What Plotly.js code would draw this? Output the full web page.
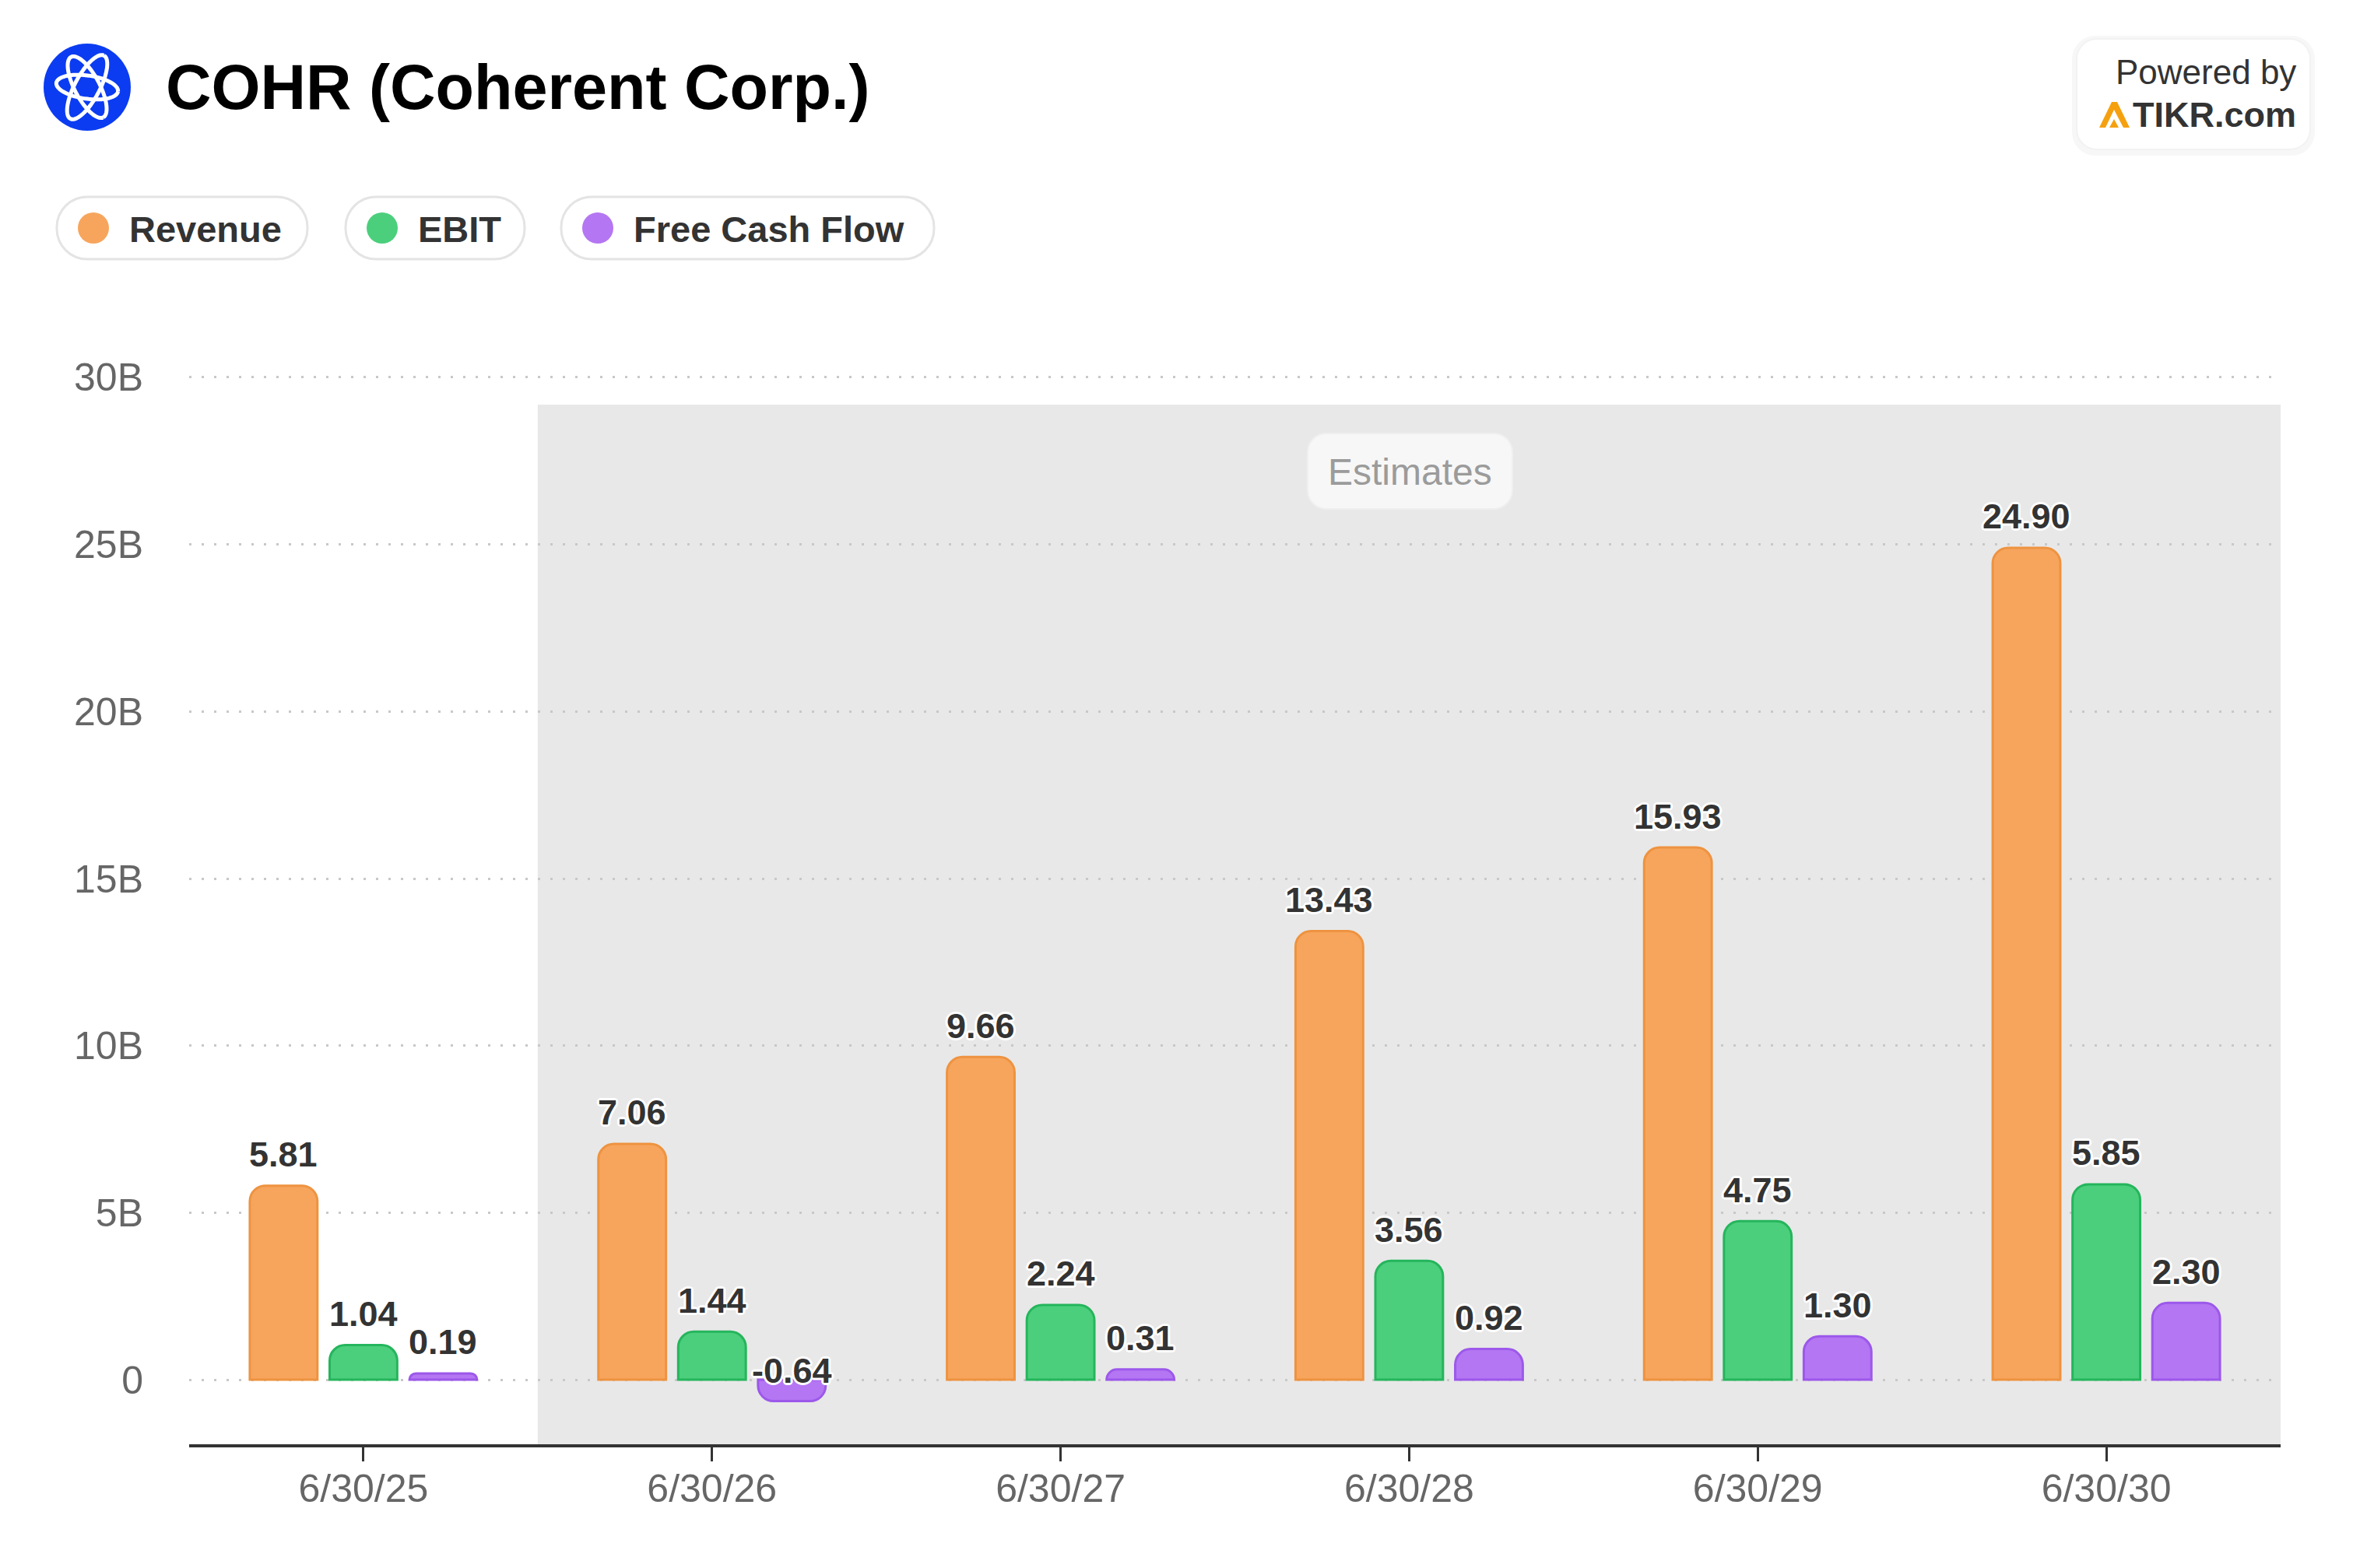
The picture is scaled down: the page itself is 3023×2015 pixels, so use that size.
<!DOCTYPE html>
<html>
<head>
<meta charset="utf-8">
<script src="https://cdn.plot.ly/plotly-3.0.1.min.js"></script>
<style>
  html, body { margin: 0; padding: 0; background: #ffffff; }
  #chart { width: 3023px; height: 2015px; }
</style>
</head>
<body>
<div id="chart"></div>
<script>
// ---- Data (values in billions USD) ----
const periods = ["6/30/25", "6/30/26", "6/30/27", "6/30/28", "6/30/29", "6/30/30"];
const seriesNames = ["Revenue", "EBIT", "Free Cash Flow"];
const revenue = [5.81, 7.06, 9.66, 13.43, 15.93, 24.90];
const ebit = [1.04, 1.44, 2.24, 3.56, 4.75, 5.85];
const freeCashFlow = [0.19, -0.64, 0.31, 0.92, 1.30, 2.30];
const yTickVals = [0, 5, 10, 15, 20, 25, 30];
const yTickText = ["0", "5B", "10B", "15B", "20B", "25B", "30B"];
const estimatesLabel = "Estimates";
const titleText = "COHR (Coherent Corp.)";

// ---- Style ----
const FONT = "Liberation Sans, Arial, Helvetica, sans-serif";
const fills = ["#F7A55D", "#4BCF7C", "#B476F2"];
const edges = ["#EE9340", "#25B55C", "#9C58EA"];
const BARGAP = 0.313, BARGROUPGAP = 0.153;

// plot area in pixels
const W0 = 3023, H0 = 2015;
const Y_MIN = -1.93, Y_MAX = 30.3;
const L = 243, R = 2930, T = 472, B = 1856;
const PW = R - L, PH = B - T;
const px = x => (x - L) / PW;
const py = y => (B - y) / PH;

function rrect(x0, y0, x1, y1, r) {
  const k = 0.5523 * r;
  const P = (x, y) => px(x) + "," + py(y);
  return "M" + P(x0 + r, y0) +
    " L" + P(x1 - r, y0) +
    " C" + P(x1 - r + k, y0) + " " + P(x1, y0 + r - k) + " " + P(x1, y0 + r) +
    " L" + P(x1, y1 - r) +
    " C" + P(x1, y1 - r + k) + " " + P(x1 - r + k, y1) + " " + P(x1 - r, y1) +
    " L" + P(x0 + r, y1) +
    " C" + P(x0 + r - k, y1) + " " + P(x0, y1 - r + k) + " " + P(x0, y1 - r) +
    " L" + P(x0, y0 + r) +
    " C" + P(x0, y0 + r - k) + " " + P(x0 + r - k, y0) + " " + P(x0 + r, y0) + " Z";
}

function ellipsePath(cx, cy, rx, ry, rotDeg) {
  const a = rotDeg * Math.PI / 180;
  let s = "";
  for (let i = 0; i <= 60; i++) {
    const t = i / 60 * 2 * Math.PI;
    const ex = rx * Math.cos(t), ey = ry * Math.sin(t);
    const x = cx + ex * Math.cos(a) - ey * Math.sin(a);
    const y = cy + ex * Math.sin(a) + ey * Math.cos(a);
    s += (i === 0 ? "M" : " L") + px(x) + "," + py(y);
  }
  return s;
}

const allSeries = [revenue, ebit, freeCashFlow];
const traces = allSeries.map((vals, k) => ({
  type: "bar",
  name: seriesNames[k],
  x: periods,
  y: vals,
  marker: { color: fills[k], line: { color: edges[k], width: 3 }, cornerradius: 20 },
  hoverinfo: "none",
  showlegend: false
}));

const shapes = [];
const annotations = [];

// estimates shaded band
shapes.push({ type: "rect", xref: "x", yref: "paper", x0: 0.5, x1: 5.5, y0: 0, y1: py(520),
  fillcolor: "#e8e8e8", line: { width: 0 }, layer: "below" });

// estimates pill
shapes.push({ type: "path", xref: "paper", yref: "paper", path: rrect(1680, 557, 1943, 654, 24),
  fillcolor: "#f7f7f7", line: { color: "#efefef", width: 2 }, layer: "above" });
annotations.push({ xref: "paper", yref: "paper", x: px(1811), y: py(606), xanchor: "center", yanchor: "middle",
  text: estimatesLabel, showarrow: false, font: { family: FONT, size: 48, color: "#9b9b9b" } });

// data labels
const slot = (1 - BARGAP) / 3;
const halo = "3px 0 0 #fff, -3px 0 0 #fff, 0 3px 0 #fff, 0 -3px 0 #fff, 2px 2px 0 #fff, -2px -2px 0 #fff, 2px -2px 0 #fff, -2px 2px 0 #fff";
allSeries.forEach((vals, k) => {
  vals.forEach((v, i) => {
    annotations.push({
      xref: "x", yref: "y", x: i + (k - 1) * slot, y: Math.max(v, 0),
      xanchor: "center", yanchor: "middle", yshift: v < 0 ? 12 : 40,
      text: v.toFixed(2), showarrow: false,
      font: { family: FONT, size: 45, color: "#333333", weight: "bold", shadow: halo }
    });
  });
});

// title + logo
shapes.push({ type: "circle", xref: "paper", yref: "paper", x0: px(56), x1: px(168), y0: py(168), y1: py(56),
  fillcolor: "#0b3cf1", line: { width: 0 }, layer: "above" });
[[-62, 46, 16], [62, 44, 16], [8, 40, 15]].forEach(e => {
  shapes.push({ type: "path", xref: "paper", yref: "paper", path: ellipsePath(112, 112, e[1], e[2], e[0]),
    line: { color: "#ffffff", width: 5 }, fillcolor: "rgba(0,0,0,0)", layer: "above" });
});
annotations.push({ xref: "paper", yref: "paper", x: px(211), y: py(112), xanchor: "left", yanchor: "middle",
  text: titleText, showarrow: false, font: { family: FONT, size: 81, color: "#000000", weight: "bold" } });

// legend pills
const pills = [[73, 395], [444, 674], [721, 1200]];
pills.forEach((p, k) => {
  shapes.push({ type: "path", xref: "paper", yref: "paper", path: rrect(p[0], 253, p[1], 333, 39),
    fillcolor: "#ffffff", line: { color: "#e4e4e4", width: 3 }, layer: "above" });
  shapes.push({ type: "circle", xref: "paper", yref: "paper", x0: px(p[0] + 27), x1: px(p[0] + 67),
    y0: py(313), y1: py(273), fillcolor: fills[k], line: { width: 0 }, layer: "above" });
  annotations.push({ xref: "paper", yref: "paper", x: px(p[0] + 91), y: py(294), xanchor: "left", yanchor: "middle",
    text: seriesNames[k], showarrow: false, font: { family: FONT, size: 47, color: "#333333", weight: "bold" } });
});

// powered by box
shapes.push({ type: "path", xref: "paper", yref: "paper", path: rrect(2662, 46, 2974, 200, 30),
  fillcolor: "rgba(0,0,0,0.03)", line: { width: 0 }, layer: "above" });
shapes.push({ type: "path", xref: "paper", yref: "paper", path: rrect(2668, 50, 2968, 192, 26),
  fillcolor: "#ffffff", line: { color: "#f2f2f2", width: 2 }, layer: "above" });
const tk = (pts) => pts.map((q, i) => (i === 0 ? "M" : " L") + px(q[0]) + "," + py(q[1])).join("") + " Z";
shapes.push({ type: "path", xref: "paper", yref: "paper",
  path: tk([[2697, 164], [2713, 131], [2720, 131], [2736, 164], [2728, 164], [2716, 141], [2705, 164]]),
  fillcolor: "#F5A10F", line: { width: 0 }, layer: "above" });
shapes.push({ type: "path", xref: "paper", yref: "paper",
  path: tk([[2710, 164], [2716, 153], [2722, 164]]),
  fillcolor: "#F5A10F", line: { width: 0 }, layer: "above" });
annotations.push({ xref: "paper", yref: "paper", x: px(2952), y: py(93), xanchor: "right", yanchor: "middle",
  text: "Powered by", showarrow: false, font: { family: FONT, size: 44, color: "#333333" } });
annotations.push({ xref: "paper", yref: "paper", x: px(2952), y: py(148), xanchor: "right", yanchor: "middle",
  text: "TIKR.com", showarrow: false, font: { family: FONT, size: 45, color: "#333333", weight: "bold" } });

const layout = {
  width: W0, height: H0,
  margin: { l: L, r: W0 - R, t: T, b: H0 - B, pad: 0 },
  paper_bgcolor: "#ffffff", plot_bgcolor: "rgba(0,0,0,0)",
  barmode: "group", bargap: BARGAP, bargroupgap: BARGROUPGAP,
  font: { family: FONT },
  showlegend: false,
  xaxis: {
    type: "category", range: [-0.5, 5.5], fixedrange: true,
    showgrid: false, zeroline: false,
    showline: true, linecolor: "#333333", linewidth: 4,
    ticks: "outside", ticklen: 18, tickwidth: 3, tickcolor: "#333333",
    ticklabelstandoff: -8,
    tickfont: { family: FONT, size: 50, color: "#666666" }
  },
  yaxis: {
    range: [Y_MIN, Y_MAX], fixedrange: true,
    tickvals: yTickVals, ticktext: yTickText,
    showgrid: true, gridcolor: "#c8c8c8", gridwidth: 3, griddash: "3px,13px",
    zeroline: false, showline: false, ticks: "",
    ticklabelstandoff: 58,
    tickfont: { family: FONT, size: 50, color: "#666666" }
  },
  shapes: shapes,
  annotations: annotations
};

Plotly.newPlot("chart", traces, layout, { displayModeBar: false, staticPlot: true });
</script>
</body>
</html>
